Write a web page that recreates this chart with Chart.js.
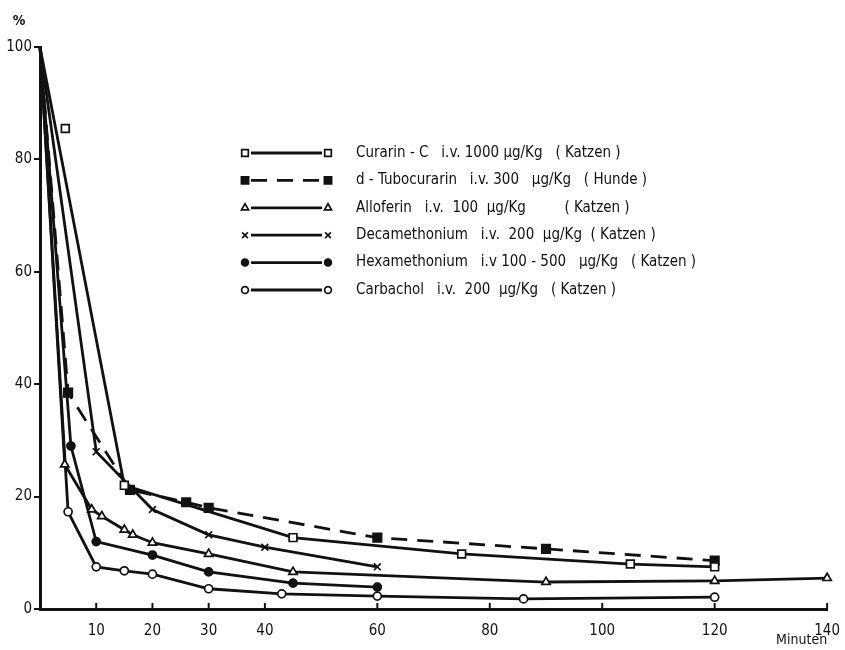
<!DOCTYPE html>
<html>
<head>
<meta charset="utf-8">
<script src="https://cdn.jsdelivr.net/npm/chart.js@4.4.1/dist/chart.umd.min.js"></script>
<style>
body { margin: 0; background: #fff; }
#wrap { width: 845px; height: 650px; position: relative; }
</style>
</head>
<body>
<div id="wrap"><canvas id="blockade"></canvas></div>
<script>
// time in minutes, remaining response in %
const curarinMin = [0, 15, 45, 75, 105, 120];
const curarinPct = [100, 22, 12.7, 9.8, 8, 7.5];
const curarinLoneMin = [4.5];
const curarinLonePct = [85.5];

const tuboMin = [0, 5, 16, 26, 30, 60, 90, 120];
const tuboPct = [100, 38.5, 21.2, 19, 18, 12.7, 10.7, 8.6];

const alloMin = [0, 4.4, 9.2, 11, 15, 16.5, 20, 30, 45, 90, 120, 140];
const alloPct = [100, 25.7, 17.7, 16.5, 14.1, 13.2, 11.8, 9.8, 6.6, 4.8, 5, 5.5];

const decaMin = [0, 10, 20, 30, 40, 60];
const decaPct = [100, 28, 17.7, 13.2, 11, 7.5];

const hexaMin = [0, 5.5, 10, 20, 30, 45, 60];
const hexaPct = [100, 29, 12, 9.6, 6.6, 4.6, 3.9];

const carbaMin = [0, 5, 10, 15, 20, 30, 43, 60, 86, 120];
const carbaPct = [100, 17.3, 7.5, 6.8, 6.2, 3.6, 2.7, 2.3, 1.8, 2.1];

const xTicks = [0, 10, 20, 30, 40, 60, 80, 100, 120, 140];
const yTicks = [0, 20, 40, 60, 80, 100];

const labels = [
    'Curarin - C   i.v. 1000 µg/Kg   ( Katzen )',
    'd - Tubocurarin   i.v. 300   µg/Kg   ( Hunde )',
    'Alloferin   i.v.  100  µg/Kg         ( Katzen )',
    'Decamethonium   i.v.  200  µg/Kg  ( Katzen )',
    'Hexamethonium   i.v 100 - 500   µg/Kg   ( Katzen )',
    'Carbachol   i.v.  200  µg/Kg   ( Katzen )'
];

const ink = '#111';
const paper = '#fff';
const textFont = '"DejaVu Sans Condensed", "Liberation Sans Narrow", "DejaVu Sans", sans-serif';

function pairs(xs, ys) {
    return xs.map((x, i) => ({ x: x, y: ys[i] }));
}

// no marker on the common starting point
function markerRadius(size) {
    return ctx => (ctx.raw && ctx.raw.x === 0) ? 0 : size;
}

function series(label, xs, ys, style, fill, size, dash) {
    return {
        label: label,
        data: pairs(xs, ys),
        borderColor: ink,
        borderWidth: 2.8,
        borderDash: dash || [],
        pointStyle: style,
        pointBackgroundColor: fill,
        pointBorderColor: ink,
        pointBorderWidth: 1.7,
        pointRadius: markerRadius(size),
        markerSize: size,
        tension: 0,
        clip: false
    };
}

const datasets = [
    series(labels[0], curarinMin, curarinPct, 'rect', paper, 5.5),
    series(labels[1], tuboMin, tuboPct, 'rect', ink, 6, [16, 10]),
    series(labels[2], alloMin, alloPct, 'triangle', paper, 4.8),
    series(labels[3], decaMin, decaPct, 'crossRot', ink, 4.8),
    series(labels[4], hexaMin, hexaPct, 'circle', ink, 4),
    series(labels[5], carbaMin, carbaPct, 'circle', paper, 4)
];
// single curarin reading off the line
const lone = series('', curarinLoneMin, curarinLonePct, 'rect', paper, 5.5);
lone.showLine = false;
datasets.push(lone);

// legend block inside the plot: line sample with a marker at each end
const legendX0 = 245, legendX1 = 328, legendTextX = 356, legendTop = 153, legendStep = 27.4;

const sideLegend = {
    id: 'sideLegend',
    afterDraw(chart) {
        const ctx = chart.ctx;
        ctx.save();
        let row = 0;
        chart.data.datasets.forEach(ds => {
            if (!ds.label) return;
            const y = legendTop + row * legendStep;
            ctx.strokeStyle = ink;
            ctx.lineWidth = ds.borderWidth;
            ctx.setLineDash(ds.borderDash);
            ctx.beginPath();
            ctx.moveTo(legendX0 + 6, y);
            ctx.lineTo(legendX1 - 6, y);
            ctx.stroke();
            ctx.setLineDash([]);
            [legendX0, legendX1].forEach(px => {
                ctx.fillStyle = ds.pointBackgroundColor;
                ctx.strokeStyle = ink;
                ctx.lineWidth = ds.pointBorderWidth;
                Chart.helpers.drawPoint(ctx, {
                    pointStyle: ds.pointStyle,
                    radius: ds.markerSize * 0.85,
                    rotation: 0,
                    borderWidth: ds.pointBorderWidth
                }, px, y);
            });
            ctx.fillStyle = ink;
            ctx.font = '15px ' + textFont;
            ctx.textBaseline = 'middle';
            ctx.fillText(ds.label, legendTextX, y);
            row++;
        });
        ctx.restore();
    }
};

// x ticks point up into the plot; unit sign above the y axis
const axisMarks = {
    id: 'axisMarks',
    afterDraw(chart) {
        const ctx = chart.ctx;
        const xs = chart.scales.x;
        const area = chart.chartArea;
        ctx.save();
        ctx.strokeStyle = ink;
        ctx.lineWidth = 2;
        xTicks.forEach(v => {
            if (v === 0) return;
            const px = xs.getPixelForValue(v);
            ctx.beginPath();
            ctx.moveTo(px, area.bottom);
            ctx.lineTo(px, area.bottom - 6);
            ctx.stroke();
        });
        ctx.fillStyle = ink;
        ctx.font = 'bold 14px ' + textFont;
        ctx.textAlign = 'center';
        ctx.textBaseline = 'middle';
        ctx.fillText('%', 19, 21);
        ctx.restore();
    }
};

const canvas = document.getElementById('blockade');

new Chart(canvas, {
    type: 'line',
    data: { datasets: datasets },
    options: {
        responsive: true,
        maintainAspectRatio: false,
        animation: false,
        layout: { padding: { top: 47, right: 10, left: 0, bottom: 0 } },
        plugins: {
            legend: { display: false },
            tooltip: { enabled: false }
        },
        scales: {
            x: {
                type: 'linear',
                min: 0,
                max: 140,
                afterBuildTicks: scale => { scale.ticks = xTicks.map(v => ({ value: v })); },
                afterFit: scale => { scale.height = 41; },
                grid: { display: false },
                border: { display: true, color: ink, width: 3 },
                ticks: {
                    padding: 5,
                    color: ink,
                    maxRotation: 0,
                    autoSkip: false,
                    font: { family: textFont, size: 15 },
                    callback: v => v === 0 ? '' : v
                },
                title: {
                    display: true,
                    text: 'Minuten',
                    align: 'end',
                    color: ink,
                    padding: { top: 0, bottom: 1 },
                    font: { family: textFont, size: 14 }
                }
            },
            y: {
                min: 0,
                max: 100,
                afterBuildTicks: scale => { scale.ticks = yTicks.map(v => ({ value: v })); },
                afterFit: scale => { scale.width = 40; },
                grid: { display: true, drawOnChartArea: false, drawTicks: true, tickLength: 6, color: ink, lineWidth: 2 },
                border: { display: true, color: ink, width: 3 },
                ticks: {
                    padding: 2,
                    color: ink,
                    font: { family: textFont, size: 15 }
                }
            }
        }
    },
    plugins: [sideLegend, axisMarks]
});
</script>
</body>
</html>
